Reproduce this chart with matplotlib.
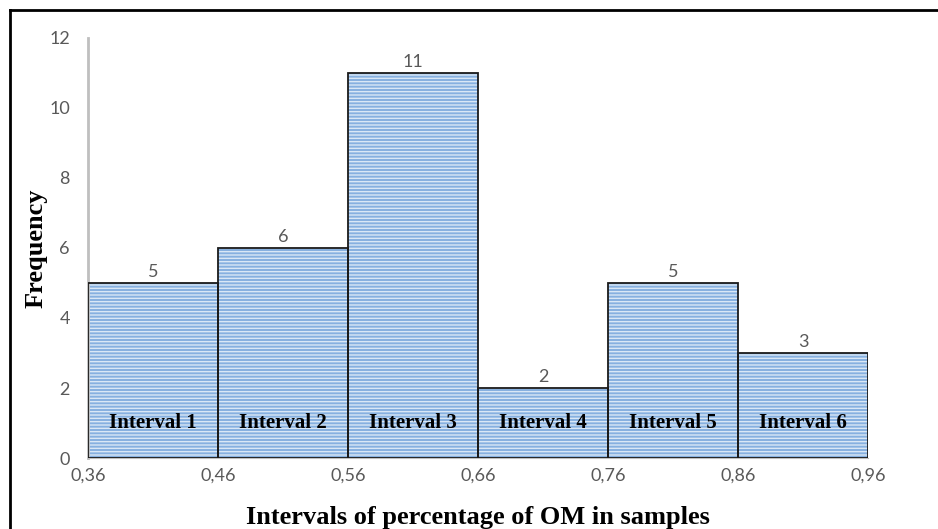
import matplotlib
matplotlib.use("Agg")
import matplotlib.pyplot as plt
from matplotlib.lines import Line2D

# histogram data
edges = [0.36, 0.46, 0.56, 0.66, 0.76, 0.86, 0.96]
freq = [5, 6, 11, 2, 5, 3]
interval_names = ["Interval 1", "Interval 2", "Interval 3", "Interval 4", "Interval 5", "Interval 6"]
edge_labels = ["0,36", "0,46", "0,56", "0,66", "0,76", "0,86", "0,96"]
y_ticks = [0, 2, 4, 6, 8, 10, 12]

lefts = edges[:-1]
widths = [b - a for a, b in zip(edges[:-1], edges[1:])]
centers = [a + w / 2 for a, w in zip(lefts, widths)]

fig = plt.figure(figsize=(9.38, 5.29), dpi=100)
ax = fig.add_axes([0.0938, 0.1342, 0.8316, 0.794])

# striped fill first, then the black outlines on top
ax.bar(lefts, freq, width=widths, align="edge", color="#86b0e0",
       edgecolor="#d9e7f6", linewidth=0, hatch="-----", zorder=2)
bars = ax.bar(lefts, freq, width=widths, align="edge", fill=False,
              edgecolor="#1a1a1a", linewidth=1.3, zorder=3)

ax.bar_label(bars, labels=[str(v) for v in freq], padding=2,
             color="#595959", fontsize=13, family="Lato")

for x, name in zip(centers, interval_names):
    ax.text(x, 1.0, name, ha="center", va="center", fontsize=15,
            fontweight="bold", family="Liberation Serif", color="black", zorder=4)

ax.set_xlim(edges[0], edges[-1])
ax.set_ylim(0, 12)
ax.set_xticks(edges)
ax.set_xticklabels(edge_labels)
ax.set_yticks(y_ticks)
for lab in ax.get_xticklabels() + ax.get_yticklabels():
    lab.set_family("Lato")
    lab.set_fontsize(13)
    lab.set_color("#595959")
ax.tick_params(length=0, pad=7)
ax.tick_params(axis="y", pad=13)

for s in ["top", "right"]:
    ax.spines[s].set_visible(False)
ax.spines["left"].set_color("#bfbfbf")
ax.spines["left"].set_linewidth(2)
ax.spines["bottom"].set_color("#bfbfbf")

ax.set_ylabel("Frequency", fontsize=19, fontweight="bold", family="Liberation Serif", labelpad=1)
ax.set_xlabel("Intervals of percentage of OM in samples", fontsize=19,
              fontweight="bold", family="Liberation Serif", labelpad=16)

# outer frame of the screenshot (top and left edges only)
fig.add_artist(Line2D([10 / 938, 1], [1 - 10 / 529, 1 - 10 / 529], color="black", lw=2))
fig.add_artist(Line2D([10 / 938, 10 / 938], [0, 1 - 10 / 529], color="black", lw=2))

fig.savefig("out.png", dpi=100)
